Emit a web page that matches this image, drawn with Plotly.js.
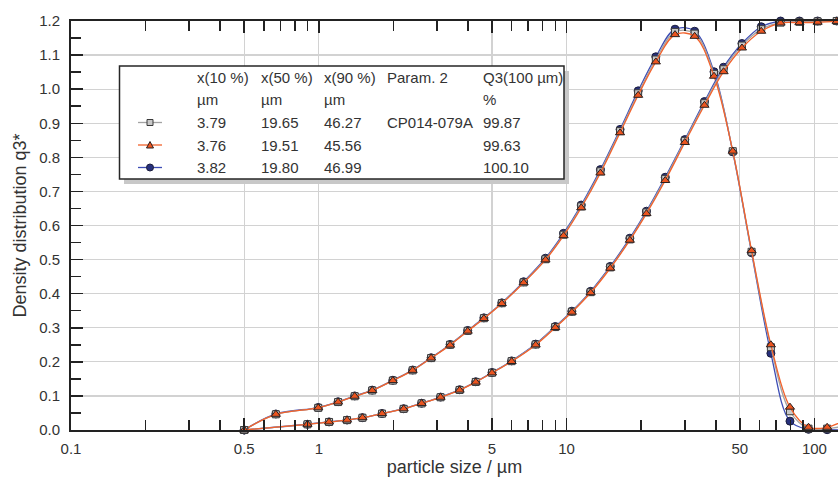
<!DOCTYPE html>
<html>
<head>
<meta charset="utf-8">
<script src="https://cdn.plot.ly/plotly-3.0.1.min.js"></script>
<style>html,body{margin:0;padding:0;background:#fff;}#chart{width:838px;height:477px;}</style>
</head>
<body>
<div id="chart"></div>
<script>
// ---- data ----
// density q3* points (geometric class means, µm)
const densX = [0.5, 0.671, 0.995, 1.196, 1.396, 1.643, 1.990, 2.392, 2.839, 3.387, 3.989, 4.637, 5.477, 6.708, 8.216, 9.721, 11.456, 13.693, 16.432, 19.442, 22.913, 27.386, 32.863, 39.345, 46.830, 55.775, 66.731, 79.687, 94.668, 112.548, 134.209];
const densGray   = [0, 0.046, 0.065, 0.082, 0.099, 0.116, 0.145, 0.175, 0.211, 0.250, 0.291, 0.328, 0.372, 0.433, 0.501, 0.573, 0.656, 0.759, 0.877, 0.988, 1.087, 1.168, 1.163, 1.045, 0.818, 0.523, 0.243, 0.055, 0.004, 0.004, 0.012];
const densOrange = [0, 0.046, 0.065, 0.082, 0.099, 0.116, 0.145, 0.175, 0.211, 0.249, 0.290, 0.327, 0.371, 0.432, 0.499, 0.570, 0.652, 0.754, 0.872, 0.982, 1.080, 1.160, 1.155, 1.038, 0.818, 0.526, 0.250, 0.067, 0.008, 0.008, 0.030];
const densBlue   = [0, 0.047, 0.066, 0.083, 0.100, 0.117, 0.146, 0.176, 0.212, 0.251, 0.292, 0.329, 0.373, 0.435, 0.504, 0.577, 0.660, 0.764, 0.882, 0.995, 1.095, 1.176, 1.170, 1.051, 0.816, 0.520, 0.225, 0.026, 0.002, 0.001, 0.000];
// cumulative Q3 points (upper class edges, µm), in %
const cumX = [0.5, 0.9, 1.1, 1.3, 1.5, 1.8, 2.2, 2.6, 3.1, 3.7, 4.3, 5.0, 6.0, 7.5, 9.0, 10.5, 12.5, 15, 18, 21, 25, 30, 36, 43, 51, 61, 73, 87, 103, 123, 147];
const cumGray   = [0, 1.39, 1.96, 2.42, 3.0, 4.0, 5.17, 6.5, 8.0, 9.79, 11.75, 14.0, 16.83, 20.9, 25.17, 28.92, 33.7, 39.75, 46.6, 53.2, 61.4, 70.7, 79.9, 88.2, 94.0, 98.0, 99.6, 99.8, 99.9, 100, 100];
const cumOrange = [0, 1.39, 1.96, 2.42, 3.0, 4.0, 5.17, 6.5, 8.0, 9.75, 11.7, 13.95, 16.75, 20.8, 25.05, 28.8, 33.55, 39.55, 46.4, 52.9, 61.0, 70.3, 79.4, 87.6, 93.4, 97.5, 99.5, 99.6, 99.7, 99.9, 100];
const cumBlue   = [0, 1.40, 1.98, 2.44, 3.02, 4.03, 5.2, 6.55, 8.05, 9.85, 11.8, 14.05, 16.9, 21.0, 25.3, 29.05, 33.9, 40.0, 46.9, 53.5, 61.8, 71.0, 80.3, 88.7, 94.5, 98.6, 100, 100, 100, 100, 100];
// legend table
const tableHeaders = ['x(10 %)', 'x(50 %)', 'x(90 %)', 'Param. 2', 'Q3(100 µm)'];
const tableUnits   = ['µm', 'µm', 'µm', '', '%'];
const tableRows = [
  ['3.79', '19.65', '46.27', 'CP014-079A', '99.87'],
  ['3.76', '19.51', '45.56', '', '99.63'],
  ['3.82', '19.80', '46.99', '', '100.10']
];
const xTickVals = [0.1, 0.5, 1, 5, 10, 50, 100];
const xTickText = ['0.1', '0.5', '1', '5', '10', '50', '100'];
const xMinorVals = [0.2, 0.3, 0.4, 0.6, 0.7, 0.8, 0.9, 2, 3, 4, 6, 7, 8, 9, 20, 30, 40, 60, 70, 80, 90];

// ---- styles ----
const FONT = 'Liberation Sans, Arial, Helvetica, sans-serif';
const TXT = '#333333';
const series = [
  {name: 'blue',   line: '#3d4db5', fill: '#27307c', edge: '#1b1d3d', symbol: 'circle',      size: 8},
  {name: 'gray',   line: '#a3a3a3', fill: '#c9c9c9', edge: '#3a3a3a', symbol: 'square',      size: 7},
  {name: 'orange', line: '#f2622c', fill: '#ec5520', edge: '#2a2020', symbol: 'triangle-up', size: 8}
];
const densData = {blue: densBlue, gray: densGray, orange: densOrange};
const cumData  = {blue: cumBlue,  gray: cumGray,  orange: cumOrange};

const traces = [];
series.forEach(s => {
  const common = {
    mode: 'lines+markers', cliponaxis: false, showlegend: false, hoverinfo: 'skip',
    line: {color: s.line, width: 1.3, shape: 'spline', smoothing: 1},
    marker: {symbol: s.symbol, size: s.size, color: s.fill, line: {color: s.edge, width: 1}}
  };
  traces.push(Object.assign({x: densX, y: densData[s.name], xaxis: 'x', yaxis: 'y'}, common));
  traces.push(Object.assign({x: cumX, y: cumData[s.name], xaxis: 'x', yaxis: 'y2'}, common));
});

// plot geometry (px)
const PL = 71, PT = 21, PW = 767, PH = 409;
const px = p => (p - PL) / PW;
const py = p => (PT + PH - p) / PH;

const shapes = [];
const annotations = [];
// legend box + shadow
shapes.push({type: 'rect', xref: 'paper', yref: 'paper', x0: px(124), x1: px(569), y0: py(71), y1: py(184), fillcolor: '#c8c8c8', line: {width: 0}, layer: 'above'});
shapes.push({type: 'rect', xref: 'paper', yref: 'paper', x0: px(119.5), x1: px(564), y0: py(66), y1: py(179), fillcolor: '#ffffff', line: {color: '#262626', width: 1.5}, layer: 'above'});
const colX = [195, 258.5, 321.5, 385, 480.5];
const rowY = [77.5, 100, 122.5, 145, 167.5];
tableHeaders.forEach((t, i) => annotations.push({text: t, x: px(colX[i]), y: py(rowY[0])}));
tableUnits.forEach((t, i) => { if (t) annotations.push({text: t, x: px(colX[i]), y: py(rowY[1])}); });
tableRows.forEach((row, r) => row.forEach((t, i) => { if (t) annotations.push({text: t, x: px(colX[i]), y: py(rowY[r + 2])}); }));
annotations.forEach(a => Object.assign(a, {xref: 'paper', yref: 'paper', xanchor: 'left', yanchor: 'middle', showarrow: false, font: {family: FONT, size: 15, color: TXT}}));
// legend sample lines/markers (gray, orange, blue)
const legOrder = [series[1], series[2], series[0]];
legOrder.forEach((s, r) => {
  const cy = rowY[r + 2];
  shapes.push({type: 'line', xref: 'paper', yref: 'paper', x0: px(138), x1: px(162), y0: py(cy), y1: py(cy), line: {color: s.line, width: 1.3}, layer: 'above'});
  if (s.symbol === 'square') {
    shapes.push({type: 'rect', xref: 'paper', yref: 'paper', x0: px(147), x1: px(153), y0: py(cy + 3), y1: py(cy - 3), fillcolor: s.fill, line: {color: s.edge, width: 1}, layer: 'above'});
  } else if (s.symbol === 'circle') {
    shapes.push({type: 'circle', xref: 'paper', yref: 'paper', x0: px(146.5), x1: px(153.5), y0: py(cy + 3.5), y1: py(cy - 3.5), fillcolor: s.fill, line: {color: s.edge, width: 1}, layer: 'above'});
  } else {
    const W = 838, H = 477;
    const path = `M ${px(146.5)} ${py(cy + 3)} L ${px(153.5)} ${py(cy + 3)} L ${px(150)} ${py(cy - 3.5)} Z`;
    shapes.push({type: 'path', xref: 'paper', yref: 'paper', path: path, fillcolor: s.fill, line: {color: s.edge, width: 1}, layer: 'above'});
  }
});

const layout = {
  width: 838, height: 477,
  margin: {l: PL, r: 838 - PL - PW, t: PT, b: 477 - PT - PH},
  paper_bgcolor: '#ffffff', plot_bgcolor: '#ffffff',
  font: {family: FONT, size: 15, color: TXT},
  showlegend: false,
  xaxis: {
    type: 'log', range: [-1, Math.log10(10) + 1.0952], autorange: false,
    tickmode: 'array', tickvals: xTickVals, ticktext: xTickText,
    ticks: 'inside', ticklen: 12, tickwidth: 1.5, tickcolor: '#222',
    showline: true, linecolor: '#222', linewidth: 2, mirror: 'ticks',
    showgrid: true, gridcolor: '#d2d2d2', gridwidth: 1.3,
    minor: {tickmode: 'array', tickvals: xMinorVals, ticks: 'inside', ticklen: 10, tickwidth: 1.5, tickcolor: '#222', showgrid: false},
    tickfont: {family: FONT, size: 15, color: TXT},
    ticklabelstandoff: 4,
    title: {text: 'particle size / µm', font: {family: FONT, size: 18, color: TXT}, standoff: 4},
    zeroline: false
  },
  yaxis: {
    range: [0, 1.2], autorange: false,
    tickmode: 'linear', tick0: 0, dtick: 0.1, tickformat: '.1f',
    ticks: 'inside', ticklen: 12, tickwidth: 1.5, tickcolor: '#222',
    showline: true, linecolor: '#222', linewidth: 2, mirror: false,
    showgrid: true, gridcolor: '#d2d2d2', gridwidth: 1.3,
    minor: {tick0: 0.05, dtick: 0.1, ticks: 'inside', ticklen: 10, tickwidth: 1.5, tickcolor: '#222', showgrid: false},
    tickfont: {family: FONT, size: 15, color: TXT},
    ticklabelstandoff: 6,
    title: {text: 'Density distribution q3*', font: {family: FONT, size: 18, color: TXT}, standoff: 8},
    zeroline: false
  },
  yaxis2: {range: [0, 100], autorange: false, overlaying: 'y', visible: false, showgrid: false},
  shapes: shapes,
  annotations: annotations
};

Plotly.newPlot('chart', traces, layout, {staticPlot: true, displayModeBar: false});
</script>
</body>
</html>
